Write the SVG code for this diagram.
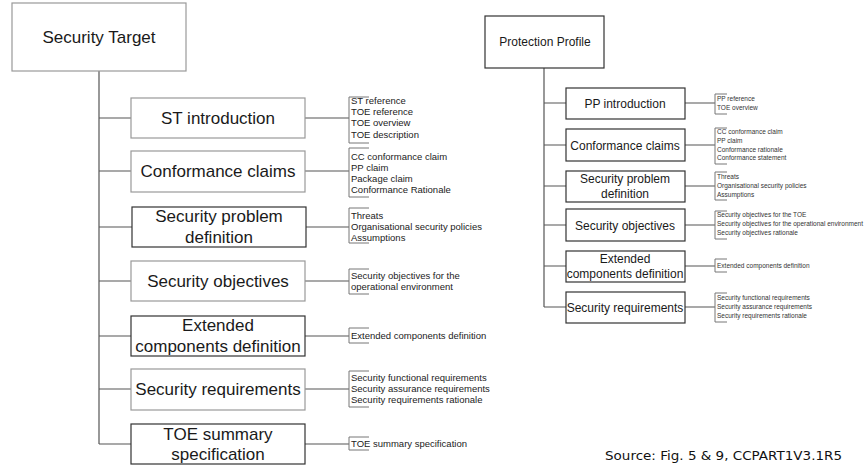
<svg xmlns="http://www.w3.org/2000/svg" width="866" height="468" viewBox="0 0 866 468">
<style>
.bg{fill:#ffffff}
.box{fill:#ffffff;stroke:#999;stroke-width:1.2}
.dk{stroke:#333}
.ln{fill:none;stroke:#555;stroke-width:1.2}
.br{fill:none;stroke:#777;stroke-width:1}
.t{font-family:"Liberation Sans",Arial,sans-serif;fill:#1a1a1a;text-anchor:middle}
.big{font-size:17px}
.mid{font-size:12px}
.s{font-family:"Liberation Sans",Arial,sans-serif;fill:#222;font-size:9.5px}
.xs{font-family:"Liberation Sans",Arial,sans-serif;fill:#333;font-size:6.5px}
.src{font-family:"DejaVu Sans",Verdana,sans-serif;font-size:12.5px;fill:#111}
</style>
<rect class="bg" x="0" y="0" width="866" height="468"/>

<g id="connectors">
  <!-- left trunk -->
  <path class="ln" d="M99,71 V444 M99,118 H131 M99,171 H131 M99,227 H132 M99,281 H131 M99,336 H131 M99,389 H131 M99,444 H131"/>
  <path class="ln" d="M305,118 H349 M305,171 H349 M306,227 H349 M305,281 H349 M305,336 H349 M305,389 H349 M305,444 H349"/>
  <!-- left brackets -->
  <path class="br" d="M369,97 H349 V143 H369 M369,148 H349 V197 H369 M369,208 H349 V243 H369 M369,269 H349 V294 H369 M369,328 H349 V343 H369 M369,371 H349 V407 H369 M369,437 H349 V450 H369"/>
  <!-- right trunk -->
  <path class="ln" d="M544,68 V307 M544,103 H566 M544,145 H566 M544,186 H566 M544,225 H566 M544,266 H566 M544,307 H566"/>
  <path class="ln" d="M685,103 H715 M685,145 H715 M685,186 H715 M685,225 H715 M685,266 H715 M685,307 H715"/>
  <path class="br" d="M727,94 H715 V114 H727 M727,128 H715 V164 H727 M727,172 H715 V200 H727 M727,211 H715 V239 H727 M727,259 H715 V272 H727 M727,293 H715 V322 H727"/>
</g>

<g id="security-target">
  <rect class="box" x="12" y="3" width="174" height="68"/>
  <text class="t big" x="99" y="43">Security Target</text>
</g>
<g id="st-introduction">
  <rect class="box" x="131" y="98" width="174" height="40"/>
  <text class="t big" x="218" y="124">ST introduction</text>
</g>
<g id="conformance-claims">
  <rect class="box" x="131" y="151" width="174" height="41"/>
  <text class="t big" x="218" y="177">Conformance claims</text>
</g>
<g id="security-problem-definition">
  <rect class="box dk" x="132" y="207" width="174" height="40"/>
  <text class="t big" x="219" y="222">Security problem</text>
  <text class="t big" x="219" y="243">definition</text>
</g>
<g id="security-objectives">
  <rect class="box" x="131" y="261" width="174" height="40"/>
  <text class="t big" x="218" y="287">Security objectives</text>
</g>
<g id="extended-components-definition">
  <rect class="box dk" x="131" y="316" width="174" height="40"/>
  <text class="t big" x="218" y="331">Extended</text>
  <text class="t big" x="218" y="352">components definition</text>
</g>
<g id="security-requirements">
  <rect class="box" x="131" y="369" width="174" height="41"/>
  <text class="t big" x="218" y="395">Security requirements</text>
</g>
<g id="toe-summary-specification">
  <rect class="box dk" x="131" y="424" width="174" height="40"/>
  <text class="t big" x="218" y="440">TOE summary</text>
  <text class="t big" x="218" y="460">specification</text>
</g>

<g id="st-lists">
  <text class="s" x="351" y="104">ST reference</text>
  <text class="s" x="351" y="115.2">TOE reference</text>
  <text class="s" x="351" y="126.4">TOE overview</text>
  <text class="s" x="351" y="137.6">TOE description</text>
  <text class="s" x="351" y="159.5">CC conformance claim</text>
  <text class="s" x="351" y="170.7">PP claim</text>
  <text class="s" x="351" y="181.9">Package claim</text>
  <text class="s" x="351" y="193.1">Conformance Rationale</text>
  <text class="s" x="351" y="218.5">Threats</text>
  <text class="s" x="351" y="229.7">Organisational security policies</text>
  <text class="s" x="351" y="240.9">Assumptions</text>
  <text class="s" x="351" y="278.5">Security objectives for the</text>
  <text class="s" x="351" y="290">operational environment</text>
  <text class="s" x="351" y="338.5">Extended components definition</text>
  <text class="s" x="351" y="380.5">Security functional requirements</text>
  <text class="s" x="351" y="391.7">Security assurance requirements</text>
  <text class="s" x="351" y="402.9">Security requirements rationale</text>
  <text class="s" x="351" y="446.5">TOE summary specification</text>
</g>

<g id="protection-profile">
  <rect class="box dk" x="485" y="16" width="119" height="52"/>
  <text class="t mid" x="545" y="46">Protection Profile</text>
</g>
<g id="pp-introduction">
  <rect class="box dk" x="566" y="88" width="119" height="31"/>
  <text class="t mid" x="625" y="107.5">PP introduction</text>
</g>
<g id="pp-conformance-claims">
  <rect class="box dk" x="566" y="129" width="119" height="32"/>
  <text class="t mid" x="625" y="149.5">Conformance claims</text>
</g>
<g id="pp-security-problem-definition">
  <rect class="box dk" x="566" y="171" width="119" height="31"/>
  <text class="t mid" x="625" y="182.5">Security problem</text>
  <text class="t mid" x="625" y="198">definition</text>
</g>
<g id="pp-security-objectives">
  <rect class="box dk" x="566" y="209" width="119" height="32"/>
  <text class="t mid" x="625" y="229.5">Security objectives</text>
</g>
<g id="pp-extended-components-definition">
  <rect class="box dk" x="566" y="251" width="119" height="31"/>
  <text class="t mid" x="625" y="262.5">Extended</text>
  <text class="t mid" x="625" y="277.5">components definition</text>
</g>
<g id="pp-security-requirements">
  <rect class="box dk" x="566" y="292" width="119" height="31"/>
  <text class="t mid" x="625" y="311.5">Security requirements</text>
</g>

<g id="pp-lists">
  <text class="xs" x="717" y="101.3">PP reference</text>
  <text class="xs" x="717" y="110.3">TOE overview</text>
  <text class="xs" x="717" y="134.3">CC conformance claim</text>
  <text class="xs" x="717" y="143">PP claim</text>
  <text class="xs" x="717" y="151.7">Conformance rationale</text>
  <text class="xs" x="717" y="160.4">Conformance statement</text>
  <text class="xs" x="717" y="179.3">Threats</text>
  <text class="xs" x="717" y="188">Organisational security policies</text>
  <text class="xs" x="717" y="196.7">Assumptions</text>
  <text class="xs" x="717" y="217.3">Security objectives for the TOE</text>
  <text class="xs" x="717" y="226">Security objectives for the operational environment</text>
  <text class="xs" x="717" y="234.7">Security objectives rationale</text>
  <text class="xs" x="717" y="268.3">Extended components definition</text>
  <text class="xs" x="717" y="300.3">Security functional requirements</text>
  <text class="xs" x="717" y="309">Security assurance requirements</text>
  <text class="xs" x="717" y="317.7">Security requirements rationale</text>
</g>

<text class="src" x="605" y="460" textLength="237" lengthAdjust="spacingAndGlyphs">Source: Fig. 5 &amp; 9, CCPART1V3.1R5</text>
</svg>
